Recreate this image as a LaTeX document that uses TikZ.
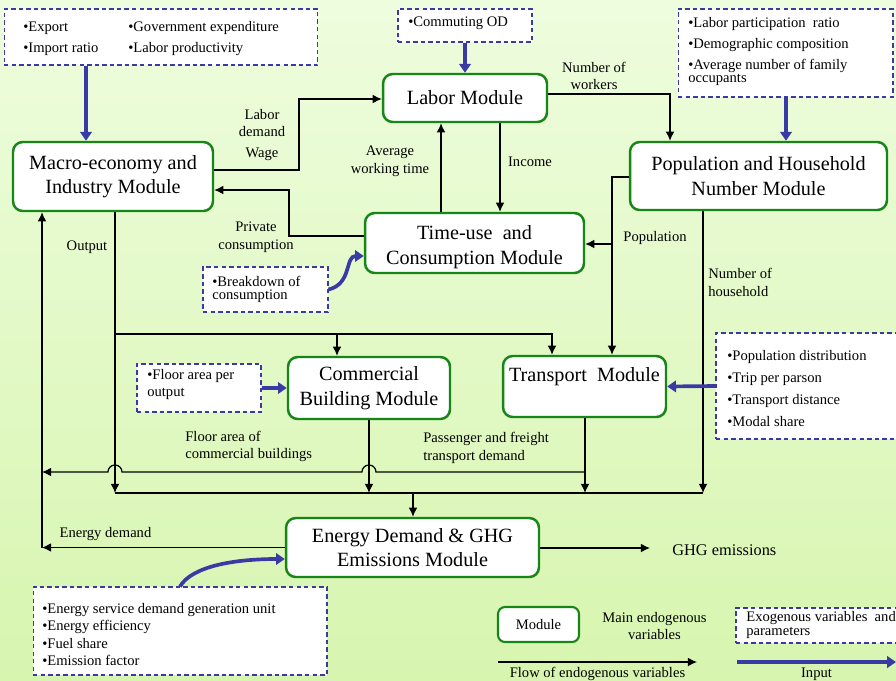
\documentclass[tikz,border=0pt]{standalone}
\usepackage{fontspec}
\setmainfont{Liberation Serif}
\usetikzlibrary{arrows.meta}

\definecolor{modgreen}{RGB}{22,135,22}
\definecolor{inblue}{RGB}{58,58,165}
\definecolor{bgtop}{RGB}{238,253,222}
\definecolor{bgbot}{RGB}{215,245,175}

\newcommand{\modfont}{\fontsize{11.5}{14}\selectfont}
\newcommand{\lblfont}{\fontsize{8.3}{10}\selectfont}

\begin{document}
\begin{tikzpicture}[x=0.02cm,y=-0.02cm,
    module/.style={draw=modgreen,line width=1.4pt,rounded corners=5.5pt,fill=white,align=center,font=\modfont,inner sep=0pt},
    exog/.style={draw=inblue,dash pattern=on 2.5pt off 1.8pt,line width=0.6pt,fill=white,inner sep=0pt},
    item/.style={anchor=west,align=left,font=\lblfont,inner sep=0pt},
    lbl/.style={align=center,font=\lblfont,inner sep=0pt},
    flow/.style={line width=0.7pt,-{Latex[length=5.2pt,width=5pt]}},
    wire/.style={line width=0.7pt},
    input/.style={draw=inblue,line width=2.1pt,-{Triangle[length=5pt,width=6.5pt]}}]

        % Background
        \shade[top color=bgtop,bottom color=bgbot] (0,0) rectangle (896,680);
        \useasboundingbox (0,0) rectangle (896,680);

        % Modules
        \node[module,minimum width=4cm,minimum height=1.38cm] (macro) at (113,176.5) {Macro-economy and\\Industry Module};
        \node[module,minimum width=3.28cm,minimum height=0.96cm] (labor) at (465,98) {Labor Module};
        \node[module,minimum width=5.14cm,minimum height=1.36cm] (popu) at (758.5,176) {Population and Household\\Number Module};
        \node[module,minimum width=4.38cm,minimum height=1.2cm] (timeuse) at (474.5,243) {};
        \node[font=\modfont,align=center,inner sep=0pt] (timetxt) at (474.5,247) {Time-use\ \ and\\Consumption Module};
        \node[module,minimum width=3.24cm,minimum height=1.24cm] (commer) at (369,388) {Commercial\\Building Module};
        \node[module,minimum width=3.26cm,minimum height=1.22cm] (trans) at (584.5,386.5) {};
        \node[font=\modfont,inner sep=0pt] (transtxt) at (584.5,377) {Transport\ \ Module};
        \node[module,minimum width=5.06cm,minimum height=1.18cm] (energy) at (412.5,547.5) {Energy Demand \& GHG\\Emissions Module};

        % Exogenous variables and parameters
        \node[exog,minimum width=6.28cm,minimum height=1.12cm] (inmacro) at (161,37) {};
        \node[item] (expimp) at (23,38.5) {•Export\\[1.9pt]•Import ratio};
        \node[item] (govlab) at (128,38.5) {•Government expenditure\\[1.9pt]•Labor productivity};

        \node[exog,minimum width=2.68cm,minimum height=0.66cm] (incomm) at (465,25.5) {};
        \node[item] (commod) at (408,23) {•Commuting OD};

        \node[exog,minimum width=4.3cm,minimum height=1.76cm] (inpop) at (785.5,53) {};
        \node[item] (poptxt) at (688,51.5) {•Labor participation\ \ ratio\\[1.9pt]•Demographic composition\\[1.9pt]•Average number of family\\[-2.6pt]occupants};

        \node[exog,minimum width=2.5cm,minimum height=0.9cm] (inbreak) at (265.5,289.5) {};
        \node[item] (breaktxt) at (212,289) {•Breakdown of\\[-2.7pt]consumption};

        \node[exog,minimum width=2.48cm,minimum height=0.96cm] (infloor) at (199,388) {};
        \node[item] (floortxt) at (147,384.5) {•Floor area per\\output};

        \node[exog,minimum width=3.72cm,minimum height=2.12cm] (intrans) at (809,386) {};
        \node[item] (transitems) at (727,388.5) {•Population distribution\\[2.6pt]•Trip per parson\\[2.6pt]•Transport distance\\[2.6pt]•Modal share};

        \node[exog,minimum width=5.88cm,minimum height=1.76cm] (inenergy) at (180,631) {};
        \node[item] (energyitems) at (42,634.5) {•Energy service demand generation unit\\•Energy efficiency\\•Fuel share\\•Emission factor};

        % Endogenous variables
        \node[lbl] (labdem) at (262,123) {Labor\\demand};
        \node[lbl] (wage) at (262,154) {Wage};
        \node[lbl] (avgwt) at (390,161.5) {Average\\working time};
        \node[lbl] (income) at (530,162) {Income};
        \node[lbl] (nworker) at (594,76) {Number of\\workers};
        \node[lbl] (privcons) at (256,237) {Private\\consumption};
        \node[lbl] (output) at (87,247) {Output};
        \node[lbl] (popl) at (655,238) {Population};
        \node[lbl,anchor=west,align=left] (nhouse) at (708,282.5) {Number of\\household};
        \node[lbl,anchor=west,align=left] (floorarea) at (185,446.5) {Floor area of\\commercial buildings};
        \node[lbl,anchor=west,align=left] (passdem) at (423,448) {Passenger and freight\\transport demand};
        \node[lbl] (edem) at (105.5,534) {Energy demand};
        \node[font=\fontsize{9.3}{11}\selectfont,anchor=west,inner sep=0pt] (ghg) at (672,550) {GHG emissions};
        \coordinate (ghgend) at (650,548);

        % Flows between modules
        \draw[flow] (macro.east |- 0,170) -| (299,99) -- (labor.west |- 0,99);
        \draw[flow] (timeuse.north -| 441,0) -- (labor.south -| 441,0);
        \draw[flow] (labor.south -| 500,0) -- (timeuse.north -| 500,0);
        \draw[flow] (labor.east |- 0,94) -| (popu.north -| 670,0);
        \draw[flow] (timeuse.west |- 0,236) -| (289,190) -- (macro.east |- 0,190);
        \draw[flow] (popu.west |- 0,177) -| (trans.north -| 612,0);
        \draw[flow] (612,244) -- (timeuse.east |- 0,244);
        \draw[flow] (popu.south -| 703,0) -- (703,493);

        % Output
        \draw[flow] (macro.south -| 115,0) -- (115,493);
        \draw[flow] (115,334) -| (trans.north -| 552,0);
        \draw[flow] (337,334) -- (commer.north -| 337,0);

        % Floor area and transport demand
        \draw[flow] (commer.south -| 369,0) -- (369,493);
        \draw[flow] (trans.south -| 585,0) -- (585,493);
        \draw[flow] (585,472) -- (376,472) arc[start angle=0,end angle=180,radius=4pt]
            -- (122,472) arc[start angle=0,end angle=180,radius=4pt] -- (42,472);
        \draw[wire] (115,493) -- (703,493);
        \draw[flow] (413,493) -- (energy.north -| 413,0);

        % Energy demand back to the macro module
        \draw[flow] (energy.west) -- (energy.west -| 42,0);
        \draw[flow] (energy.west -| 42,0) -- (macro.south -| 42,0);
        \draw[flow] (energy.east |- ghgend) -- (ghgend);

        % Inputs
        \draw[input] (inmacro.south -| 86,0) -- (macro.north -| 86,0);
        \draw[input] (incomm.south) -- (labor.north);
        \draw[input] (inpop.south -| 786,0) -- (popu.north -| 786,0);
        \draw[input] (inbreak.east) .. controls (352,284) and (345,256) .. (timeuse.west |- 0,256);
        \draw[input] (infloor.east) -- (commer.west);
        \draw[input] (intrans.west) -- (trans.east);
        \draw[input] (inenergy.north -| 180,0) .. controls (192,566) and (235,559) .. (energy.west |- 0,559);

        % Legend
        \node[module,font=\lblfont,rounded corners=4pt,line width=1.2pt,minimum width=1.62cm,minimum height=0.7cm] (legmod) at (538.5,624.5) {Module};
        \node[lbl] (legvar) at (654.5,626) {Main endogenous\\variables};
        \node[exog,minimum width=3.32cm,minimum height=0.7cm] (legexog) at (819,625.5) {};
        \node[item] (legexogtxt) at (746,625) {Exogenous variables\ \ and\\[-2.1pt]parameters};
        \coordinate (flowa) at (498,662);
        \coordinate (flowb) at (697,662);
        \draw[flow] (flowa) -- (flowb);
        \node[lbl] (legflow) at (597.5,674) {Flow of endogenous variables};
        \coordinate (ina) at (737,662);
        \coordinate (inb) at (896,662);
        \draw[input] (ina) -- (inb);
        \node[lbl] (leginput) at (816.5,674) {Input};
\end{tikzpicture}
\end{document}
